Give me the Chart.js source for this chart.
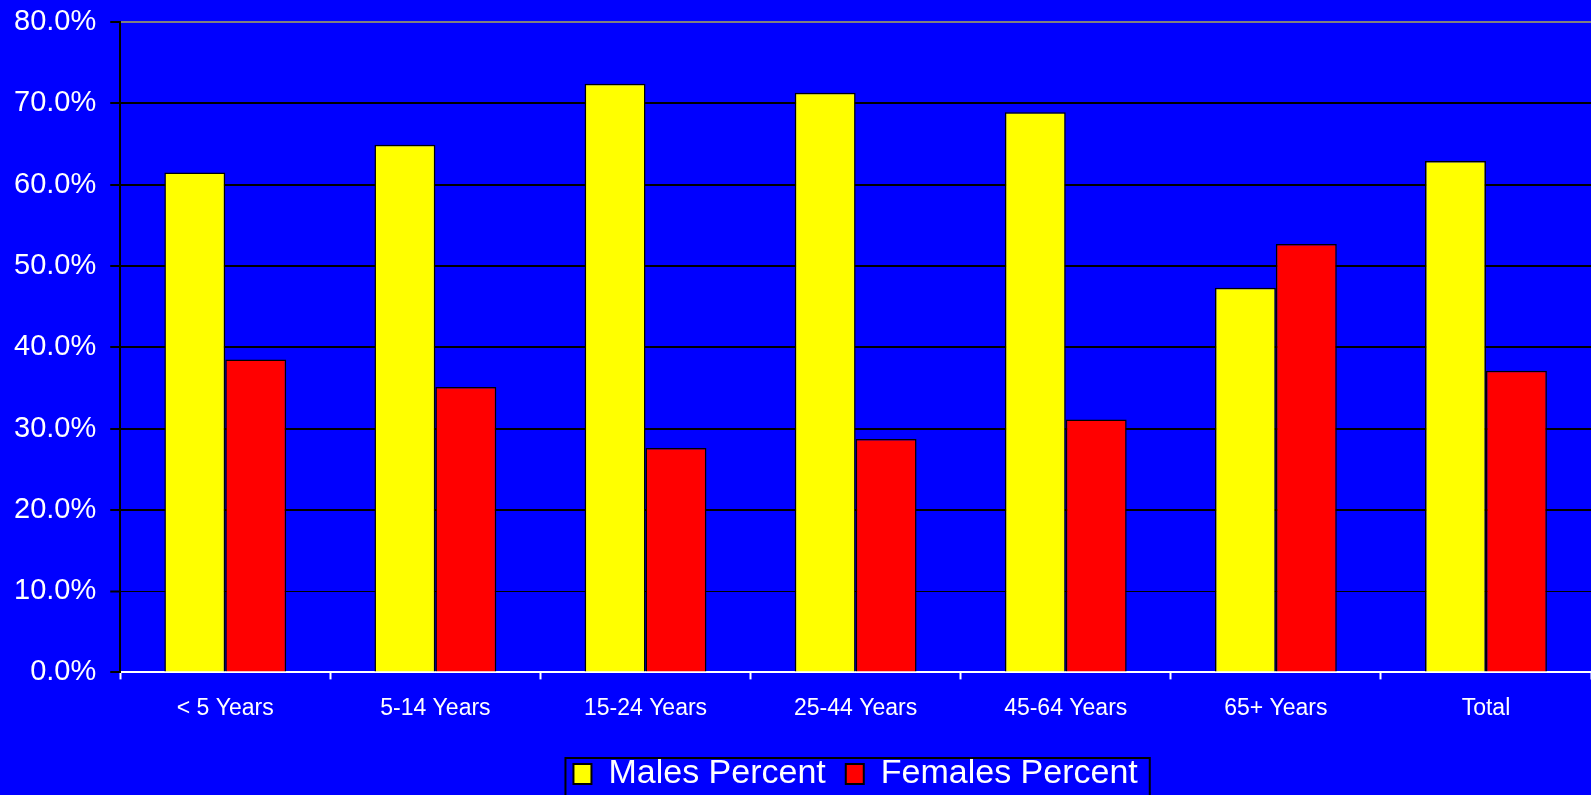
<!DOCTYPE html>
<html>
<head>
<meta charset="utf-8">
<script src="https://cdn.jsdelivr.net/npm/chart.js@4/dist/chart.umd.min.js"></script>
<style>
	html, body { margin: 0; padding: 0; background: #0000ff; }
	#wrap { width: 1591px; height: 795px; position: relative; }
</style>
</head>
<body>
<div id="wrap"><canvas id="chart"></canvas></div>
<script>
var categories = ['< 5 Years', '5-14 Years', '15-24 Years', '25-44 Years', '45-64 Years', '65+ Years', 'Total'];
var malesPercent = [61.5, 64.9, 72.4, 71.3, 68.9, 47.3, 62.9];
var femalesPercent = [38.5, 35.1, 27.6, 28.7, 31.1, 52.7, 37.1];
var yTicks = [0, 10, 20, 30, 40, 50, 60, 70, 80];

Chart.defaults.font.family = '"Liberation Sans", Arial, sans-serif';
Chart.defaults.color = '#ffffff';

// draws the black frame round the legend items
var legendFrame = {
	id: 'legendFrame',
	afterDraw: function(chart) {
		var legend = chart.legend;
		if(!legend || !legend.legendHitBoxes || !legend.legendHitBoxes.length) {
			return;
		}
		var boxes = legend.legendHitBoxes;
		var last = boxes[boxes.length - 1];
		var left = boxes[0].left - 8;
		var right = last.left + last.width + 12;
		var top = boxes[0].top + boxes[0].height / 2 - 16;
		var ctx = chart.ctx;
		ctx.save();
		ctx.strokeStyle = '#000000';
		ctx.lineWidth = 2;
		ctx.strokeRect(left, top, right - left, 80);
		ctx.restore();
	}
};

var chart = new Chart(document.getElementById('chart'), {
	type: 'bar',
	data: {
		labels: categories,
		datasets: [{
			label: 'Males Percent',
			data: malesPercent,
			backgroundColor: '#ffff00',
			borderColor: '#000000',
			borderWidth: 1.5
		}, {
			label: 'Females Percent',
			data: femalesPercent,
			backgroundColor: '#ff0000',
			borderColor: '#000000',
			borderWidth: 1.5
		}]
	},
	options: {
		responsive: true,
		maintainAspectRatio: false,
		animation: false,
		datasets: {
			bar: {
				categoryPercentage: 0.58,
				barPercentage: 1
			}
		},
		layout: {
			padding: {top: 0, right: 0, left: 0, bottom: -6}
		},
		plugins: {
			tooltip: {enabled: false},
			legend: {
				position: 'bottom',
				fullSize: false,
				labels: {
					color: '#ffffff',
					font: {size: 34},
					boxWidth: 18,
					boxHeight: 20,
					padding: 20,
					generateLabels: function(chart) {
						return chart.data.datasets.map(function(ds, i) {
							return {
								text: ds.label,
								fillStyle: ds.backgroundColor,
								strokeStyle: '#000000',
								lineWidth: 2,
								fontColor: '#ffffff',
								datasetIndex: i
							};
						});
					}
				}
			}
		},
		scales: {
			x: {
				offset: true,
				border: {color: '#ffffff', width: 2},
				grid: {
					offset: true,
					drawOnChartArea: false,
					drawTicks: true,
					tickLength: 7,
					tickColor: '#ffffff',
					tickWidth: 2
				},
				ticks: {
					color: '#ffffff',
					font: {size: 23},
					padding: 15,
					maxRotation: 0
				}
			},
			y: {
				min: 0,
				max: 80,
				afterBuildTicks: function(axis) {
					axis.ticks = yTicks.map(function(v) { return {value: v}; });
				},
				afterFit: function(axis) {
					// keep the 80% line close to the top edge
					axis.paddingTop = 22;
				},
				border: {color: '#000000', width: 2},
				grid: {
					color: function(ctx) {
						return ctx.tick && ctx.tick.value === 80 ? '#808080' : '#000000';
					},
					lineWidth: function(ctx) {
						return ctx.tick && ctx.tick.value === 10 ? 1 : 2;
					},
					tickLength: 10,
					tickColor: '#000000',
					tickWidth: 2
				},
				ticks: {
					color: '#ffffff',
					font: {size: 29},
					padding: 14,
					callback: function(v) {
						return v.toFixed(1) + '%';
					}
				}
			}
		}
	},
	plugins: [legendFrame]
});
</script>
</body>
</html>
